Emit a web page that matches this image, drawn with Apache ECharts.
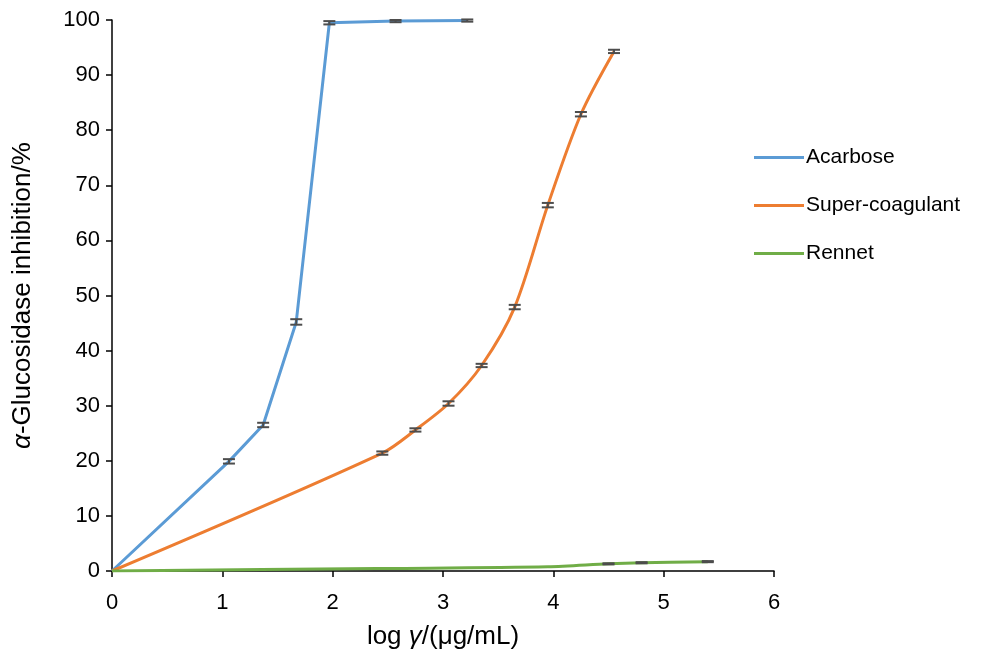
<!DOCTYPE html>
<html>
<head>
<meta charset="utf-8">
<script src="https://cdn.jsdelivr.net/npm/echarts@6/dist/echarts.min.js"></script>
<style>
  html, body { margin: 0; padding: 0; background: #fff; }
  #chart { width: 996px; height: 663px; }
</style>
</head>
<body>
<div id="chart"></div>
<script>
// data
var seriesNames = ['Acarbose', 'Super-coagulant', 'Rennet'];
var acarboseX = [0, 1.06, 1.37, 1.67, 1.97, 2.57, 3.22];
var acarboseY = [0, 19.9, 26.5, 45.2, 99.5, 99.8, 99.9];
var acarboseErr = [0, 0.4, 0.4, 0.5, 0.3, 0.2, 0.2];
var superX = [0, 2.45, 2.75, 3.05, 3.35, 3.65, 3.95, 4.25, 4.55];
var superY = [0, 21.4, 25.6, 30.4, 37.3, 47.9, 66.4, 82.9, 94.3];
var superErr = [0, 0.3, 0.3, 0.4, 0.3, 0.4, 0.4, 0.4, 0.3];
var rennetX = [0, 2.4, 3.95, 4.5, 4.8, 5.4];
var rennetY = [0, 0.45, 0.75, 1.3, 1.5, 1.7];
var rennetErr = [0, 0, 0, 0.1, 0.1, 0.1];
var xTicks = [0, 1, 2, 3, 4, 5, 6];
var yTicks = [0, 10, 20, 30, 40, 50, 60, 70, 80, 90, 100];

var colors = ['#5B9BD5', '#ED7D31', '#70AD47'];
var font = 'Arial, "Liberation Sans", sans-serif';

function pairs(xs, ys) {
    var out = [];
    for (var i = 0; i < xs.length; i++) out.push([xs[i], ys[i]]);
    return out;
}
function errData(xs, ys, es) {
    var out = [];
    for (var i = 0; i < xs.length; i++) {
        if (es[i] > 0) out.push([xs[i], ys[i] - es[i], ys[i] + es[i]]);
    }
    return out;
}
var allErr = errData(acarboseX, acarboseY, acarboseErr)
    .concat(errData(superX, superY, superErr))
    .concat(errData(rennetX, rennetY, rennetErr));

function renderErr(params, api) {
    var x = api.value(0);
    var lo = api.coord([x, api.value(1)]);
    var hi = api.coord([x, api.value(2)]);
    var hw = 6;
    var st = { stroke: '#4d4d4d', lineWidth: 2 };
    return {
        type: 'group',
        children: [
            { type: 'line', shape: { x1: lo[0] - hw, y1: lo[1], x2: lo[0] + hw, y2: lo[1] }, style: st },
            { type: 'line', shape: { x1: hi[0] - hw, y1: hi[1], x2: hi[0] + hw, y2: hi[1] }, style: st },
            { type: 'line', shape: { x1: lo[0], y1: lo[1], x2: hi[0], y2: hi[1] }, style: st }
        ]
    };
}

var titleRich = {
    n: { fontSize: 26, color: '#000', fontFamily: font },
    i: { fontSize: 26, color: '#000', fontFamily: font, fontStyle: 'italic' }
};

var chart = echarts.init(document.getElementById('chart'));
chart.setOption({
    animation: false,
    color: colors,
    textStyle: { fontFamily: font },
    grid: { left: 112, right: 222, top: 20, bottom: 92, containLabel: false },
    legend: {
        orient: 'vertical',
        left: 749,
        top: 142,
        itemGap: 27,
        itemWidth: 50,
        itemHeight: 3,
        icon: 'rect',
        data: seriesNames,
        textStyle: { fontSize: 21, color: '#000', fontFamily: font, padding: [0, 0, 0, -3] }
    },
    xAxis: {
        type: 'value',
        min: 0, max: 6, interval: 1,
        name: '{n|log }{i|γ}{n|/(μg/mL)}',
        nameLocation: 'middle',
        nameGap: 53,
        nameTextStyle: { rich: titleRich },
        axisLine: { lineStyle: { color: '#000', width: 1.5 } },
        axisTick: { show: true, length: 6, lineStyle: { color: '#000', width: 1.5 } },
        axisLabel: { fontSize: 22, color: '#000', margin: 21, formatter: function (v) { return xTicks.indexOf(v) >= 0 ? String(v) : ''; } },
        splitLine: { show: false }
    },
    yAxis: {
        type: 'value',
        min: 0, max: 100, interval: 10,
        name: '{i|α}{n|-Glucosidase inhibition/%}',
        nameLocation: 'middle',
        nameRotate: 90,
        nameGap: 76,
        nameTextStyle: { rich: titleRich },
        axisLine: { show: true, lineStyle: { color: '#000', width: 1.5 } },
        axisTick: { show: true, length: 6, lineStyle: { color: '#000', width: 1.5 } },
        axisLabel: { fontSize: 22, color: '#000', margin: 12, formatter: function (v) { return yTicks.indexOf(v) >= 0 ? String(v) : ''; } },
        splitLine: { show: false }
    },
    series: [
        {
            name: seriesNames[0], type: 'line', data: pairs(acarboseX, acarboseY),
            showSymbol: false, smooth: false, lineStyle: { width: 3 }, z: 3
        },
        {
            name: seriesNames[1], type: 'line', data: pairs(superX, superY),
            showSymbol: false, smooth: 0.3, lineStyle: { width: 3 }, z: 3
        },
        {
            name: seriesNames[2], type: 'line', data: pairs(rennetX, rennetY),
            showSymbol: false, smooth: 0.3, lineStyle: { width: 3 }, z: 3
        },
        {
            type: 'custom', renderItem: renderErr, data: allErr,
            encode: { x: 0, y: [1, 2] }, z: 4, silent: true
        }
    ]
});
</script>
</body>
</html>
